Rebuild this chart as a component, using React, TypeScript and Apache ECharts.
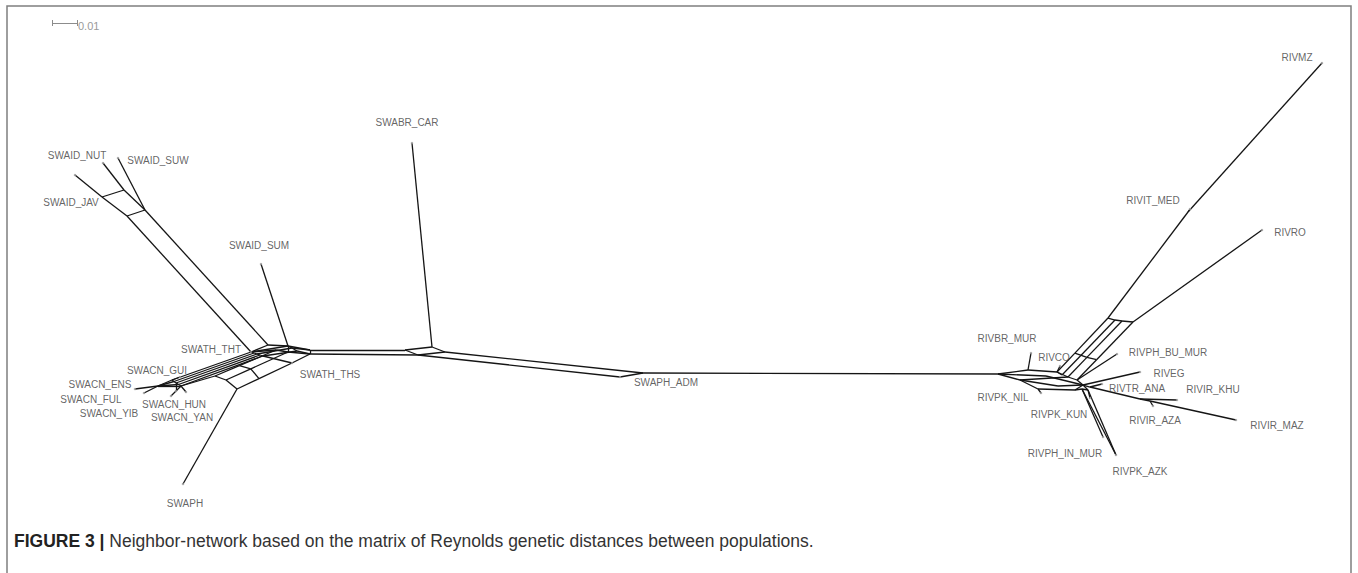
import React, { useEffect, useRef } from "react";
import * as echarts from "echarts";

// Node coordinates of the split network (drawing units, 25 units = 0.01 distance)
const nodeIds = [
  "SWAID_JAV", "SWAID_NUT", "SWAID_SUW", "a1", "a2", "a3", "a4", "SWATH_THT", "a6", "SWAID_SUM",
  "k1", "k2", "k3", "o2", "o3", "L1", "L2", "SWATH_THS", "t1", "t2", "t3", "m1", "m2", "m3",
  "b1", "b2", "b3", "c1", "SWACN_ENS", "SWACN_FUL", "SWACN_YIB", "SWACN_HUN", "SWACN_GUI", "SWACN_YAN",
  "SWAPH", "P1", "P2", "P3", "P4", "SWABR_CAR", "SWAPH_ADM", "R1",
  "q1", "q2", "e1", "t1b", "e5", "t2b",
  "s1", "s2", "s3", "s4", "s5", "s6", "s7", "s8", "s9", "RIVBR_MUR", "RIVCO", "RIVPK_NIL",
  "r1", "r2", "s3b", "u1b", "v1b",
  "u1", "u2", "u3", "v1", "v2", "v3", "n1", "RIVIT_MED", "RIVMZ", "RIVRO", "RIVPH_BU_MUR", "RIVEG",
  "x1", "x3", "x4", "RIVIR_MAZ", "RIVIR_AZA", "RIVIR_KHU", "RIVTR_ANA", "y1", "y2",
  "RIVPH_IN_MUR", "RIVPK_AZK", "RIVPK_KUN",
];
const nodeX = [
  75, 103, 118, 102, 124, 127, 145, 251, 268, 261,
  288, 276, 288, 257, 263, 310, 310, 292, 172, 176, 181, 215, 226, 237,
  239.4, 250.8, 259, 158, 135, 144, 171, 176, 180, 186,
  183, 405, 432, 445, 418, 412, 620, 643,
  292, 297, 254, 174, 260, 178.5,
  998, 1028, 1057, 1020, 1038, 1068, 1077, 1075, 1083, 1031, 1060, 1041,
  1046, 1058, 1062, 1080.6, 1115,
  1074.9, 1086.9, 1096.6, 1108, 1122, 1133, 1188, 1190, 1322, 1262, 1117, 1140,
  1090, 1150, 1140, 1236, 1153, 1177, 1102, 1082, 1088,
  1103, 1116, 1090,
];
const nodeY = [
  175, 163, 158, 197, 190, 216, 210, 352, 345, 264,
  346, 350, 352, 354, 356, 350, 354, 363, 380, 383, 386, 376, 380, 389,
  365.6, 368.8, 378.6, 386, 389, 393, 396, 391, 377, 392,
  484, 350, 347, 352, 355, 143, 377, 373,
  348, 351, 353, 381.5, 355, 384.5,
  374, 370, 372, 380, 389, 377, 380, 390, 385, 353, 366, 393,
  376, 386, 375, 355.8, 320,
  353.1, 357.4, 359.7, 318, 321, 322, 212, 209, 63, 230, 354, 372,
  387, 401, 399, 420, 406, 400, 384, 389, 390,
  437, 455, 398,
];

const edges: [string, string][] = [
  ["SWAID_JAV", "a1"], ["SWAID_NUT", "a2"], ["SWAID_SUW", "a4"], ["a1", "a2"], ["a1", "a3"],
  ["a2", "a4"], ["a3", "a4"], ["a3", "SWATH_THT"], ["a4", "a6"], ["SWATH_THT", "a6"],
  ["a6", "k1"], ["SWAID_SUM", "k1"], ["k1", "L1"], ["SWATH_THT", "o2"], ["o2", "o3"],
  ["o3", "SWATH_THS"], ["SWATH_THT", "k2"], ["k2", "k3"], ["k1", "k3"], ["k3", "L2"],
  ["L1", "L2"], ["SWATH_THS", "L2"],
  ["SWATH_THT", "k1"], ["o2", "q1"], ["o3", "q2"], ["q1", "L1"], ["q2", "L2"], ["k1", "q1"], ["q1", "q2"],
  ["SWATH_THT", "t1"], ["o2", "t2"], ["o3", "t3"], ["t1", "t2"], ["t2", "t3"], ["t1", "c1"], ["t3", "c1"],
  ["e1", "t1b"], ["t1b", "c1"], ["e5", "t2b"], ["t2b", "c1"],
  ["c1", "SWACN_ENS"], ["c1", "SWACN_FUL"], ["t3", "SWACN_YIB"], ["t2", "SWACN_HUN"], ["t1", "SWACN_GUI"],
  ["t3", "SWACN_YAN"],
  ["k2", "b1"], ["b1", "m1"], ["k3", "b2"], ["b2", "m2"], ["SWATH_THS", "b3"], ["b3", "m3"],
  ["b1", "b2"], ["b2", "b3"], ["m1", "m2"], ["m2", "m3"], ["m3", "SWAPH"], ["m1", "t3"],
  ["L1", "P1"], ["L2", "P4"], ["P1", "P2"], ["P2", "P3"], ["P3", "P4"], ["P4", "P1"],
  ["P2", "SWABR_CAR"], ["P3", "R1"], ["P4", "SWAPH_ADM"], ["SWAPH_ADM", "R1"], ["R1", "s1"],
  ["s1", "s2"], ["s2", "s3"], ["s1", "s4"], ["s4", "s5"], ["s5", "s8"], ["s3", "s6"], ["s4", "s6"],
  ["s1", "r1"], ["r1", "s9"], ["s4", "r2"], ["r2", "s9"], ["s3", "s3b"], ["s3b", "u1b"], ["u1b", "v1b"],
  ["v1", "v1b"], ["v1b", "v2"],
  ["s2", "RIVBR_MUR"], ["s3", "RIVCO"], ["s5", "RIVPK_NIL"], ["s6", "s7"], ["s8", "s9"], ["s7", "s9"],
  ["s3", "u1"], ["u1", "v1"], ["s6", "u2"], ["u2", "v2"], ["s7", "u3"], ["u3", "v3"],
  ["u1", "u2"], ["u2", "u3"], ["v2", "v3"],
  ["v1", "n1"], ["n1", "RIVMZ"], ["n1", "RIVIT_MED"], ["v3", "RIVRO"],
  ["s7", "RIVPH_BU_MUR"], ["s9", "RIVEG"], ["s9", "x1"], ["x1", "x4"], ["x4", "x3"],
  ["x3", "RIVIR_MAZ"], ["x3", "RIVIR_AZA"], ["x4", "RIVIR_KHU"], ["x1", "RIVTR_ANA"],
  ["s8", "y1"], ["s9", "y2"], ["y1", "y2"], ["y1", "RIVPH_IN_MUR"], ["y1", "RIVPK_AZK"],
  ["y2", "RIVPK_AZK"], ["y2", "RIVPK_KUN"],
];

const taxa = [
  "SWAID_NUT", "SWAID_SUW", "SWAID_JAV", "SWAID_SUM", "SWABR_CAR", "SWATH_THT", "SWATH_THS",
  "SWACN_GUI", "SWACN_ENS", "SWACN_FUL", "SWACN_YIB", "SWACN_HUN", "SWACN_YAN", "SWAPH", "SWAPH_ADM",
  "RIVBR_MUR", "RIVCO", "RIVPH_BU_MUR", "RIVEG", "RIVTR_ANA", "RIVIR_KHU", "RIVIR_AZA", "RIVIR_MAZ",
  "RIVPK_NIL", "RIVPK_KUN", "RIVPH_IN_MUR", "RIVPK_AZK", "RIVIT_MED", "RIVMZ", "RIVRO",
];

const scaleBarValue = 0.01;
const unitsPerDistance = 2500;
const captionBold = "FIGURE 3 |";
const captionText = " Neighbor-network based on the matrix of Reynolds genetic distances between populations.";

// label placement (style): offset of label centre from its node, in px
const labelOffset: Record<string, [number, number]> = {
  SWAID_NUT: [-26, -8], SWAID_SUW: [40, 2], SWAID_JAV: [-4, 27], SWAID_SUM: [-2, -19],
  SWABR_CAR: [-5, -21], SWATH_THT: [-40, -3], SWATH_THS: [38, 11], SWACN_GUI: [-23, -7],
  SWACN_ENS: [-35, -5], SWACN_FUL: [-53, 6], SWACN_YIB: [-62, 17], SWACN_HUN: [-2, 13],
  SWACN_YAN: [-4, 25], SWAPH: [2, 19], SWAPH_ADM: [46, 5],
  RIVBR_MUR: [-24, -15], RIVCO: [-6, -9], RIVPH_BU_MUR: [51, -2], RIVEG: [29, 1],
  RIVTR_ANA: [35, 4], RIVIR_KHU: [36, -11], RIVIR_AZA: [2, 14], RIVIR_MAZ: [41, 5],
  RIVPK_NIL: [-38, 4], RIVPK_KUN: [-31, 16], RIVPH_IN_MUR: [-38, 16], RIVPK_AZK: [24, 16],
  RIVIT_MED: [-37, -9], RIVMZ: [-25, -6], RIVRO: [28, 2],
};

const W = 1358;
const H = 573;
const FONT = "Liberation Sans, Arial, sans-serif";

export default function App() {
  const ref = useRef<HTMLDivElement>(null);
  useEffect(() => {
    if (!ref.current) return;
    const chart = echarts.init(ref.current, undefined, { renderer: "svg" });
    const pos: Record<string, [number, number]> = {};
    nodeIds.forEach((id, i) => (pos[id] = [nodeX[i], nodeY[i]]));
    const edgeData = edges.map(([a, b]) => ({ coords: [pos[a], pos[b]] }));
    const barLen = scaleBarValue * unitsPerDistance;
    const barX = 52;
    const barY = 23;
    const labelData = taxa.map((t) => ({
      value: [pos[t][0], pos[t][1]],
      name: t,
      label: { offset: labelOffset[t] || [0, 0] },
    }));
    chart.setOption({
      animation: false,
      backgroundColor: "#ffffff",
      grid: { left: 0, right: 0, top: 0, bottom: 0, containLabel: false },
      xAxis: { type: "value", min: 0, max: W, show: false },
      yAxis: { type: "value", min: 0, max: H, inverse: true, show: false },
      series: [
        {
          type: "lines",
          coordinateSystem: "cartesian2d",
          polyline: false,
          silent: true,
          lineStyle: { color: "#151515", width: 1.3, opacity: 1 },
          data: edgeData,
        },
        {
          type: "lines",
          coordinateSystem: "cartesian2d",
          silent: true,
          lineStyle: { color: "#8c8c8c", width: 1, opacity: 1 },
          data: [
            { coords: [[barX, barY], [barX + barLen, barY]] },
            { coords: [[barX, barY - 3], [barX, barY + 3]] },
            { coords: [[barX + barLen, barY - 3], [barX + barLen, barY + 3]] },
          ],
        },
        {
          type: "scatter",
          silent: true,
          symbol: "circle",
          symbolSize: 2.5,
          itemStyle: { color: "#9a9a9a" },
          label: {
            show: true,
            position: "inside",
            formatter: "{b}",
            color: "#3c3c3c",
            fontSize: 10,
            fontFamily: FONT,
          },
          data: labelData,
        },
      ],
      graphic: [
        {
          type: "rect",
          shape: { x: 7, y: 6, width: 1344, height: 620 },
          style: { fill: "none", stroke: "#7f7f7f", lineWidth: 1.5 },
          silent: true,
        },
        {
          type: "text",
          x: barX + barLen + 1,
          y: barY + 3,
          style: {
            text: String(scaleBarValue),
            fill: "#9a9a9a",
            fontSize: 11,
            fontFamily: FONT,
            verticalAlign: "middle",
          },
        },
        {
          type: "text",
          x: 14,
          y: 541,
          style: {
            text: "{b|" + captionBold + "}{n|" + captionText + "}",
            verticalAlign: "middle",
            rich: {
              b: { fontSize: 17.5, fontWeight: "bold", fill: "#222", fontFamily: FONT },
              n: { fontSize: 17.5, fill: "#333", fontFamily: FONT },
            },
          },
        },
      ],
    });
    return () => chart.dispose();
  }, []);
  return (
    <div
      ref={ref}
      style={{ position: "absolute", left: 0, top: 0, width: W, height: H, background: "#fff" }}
    />
  );
}
